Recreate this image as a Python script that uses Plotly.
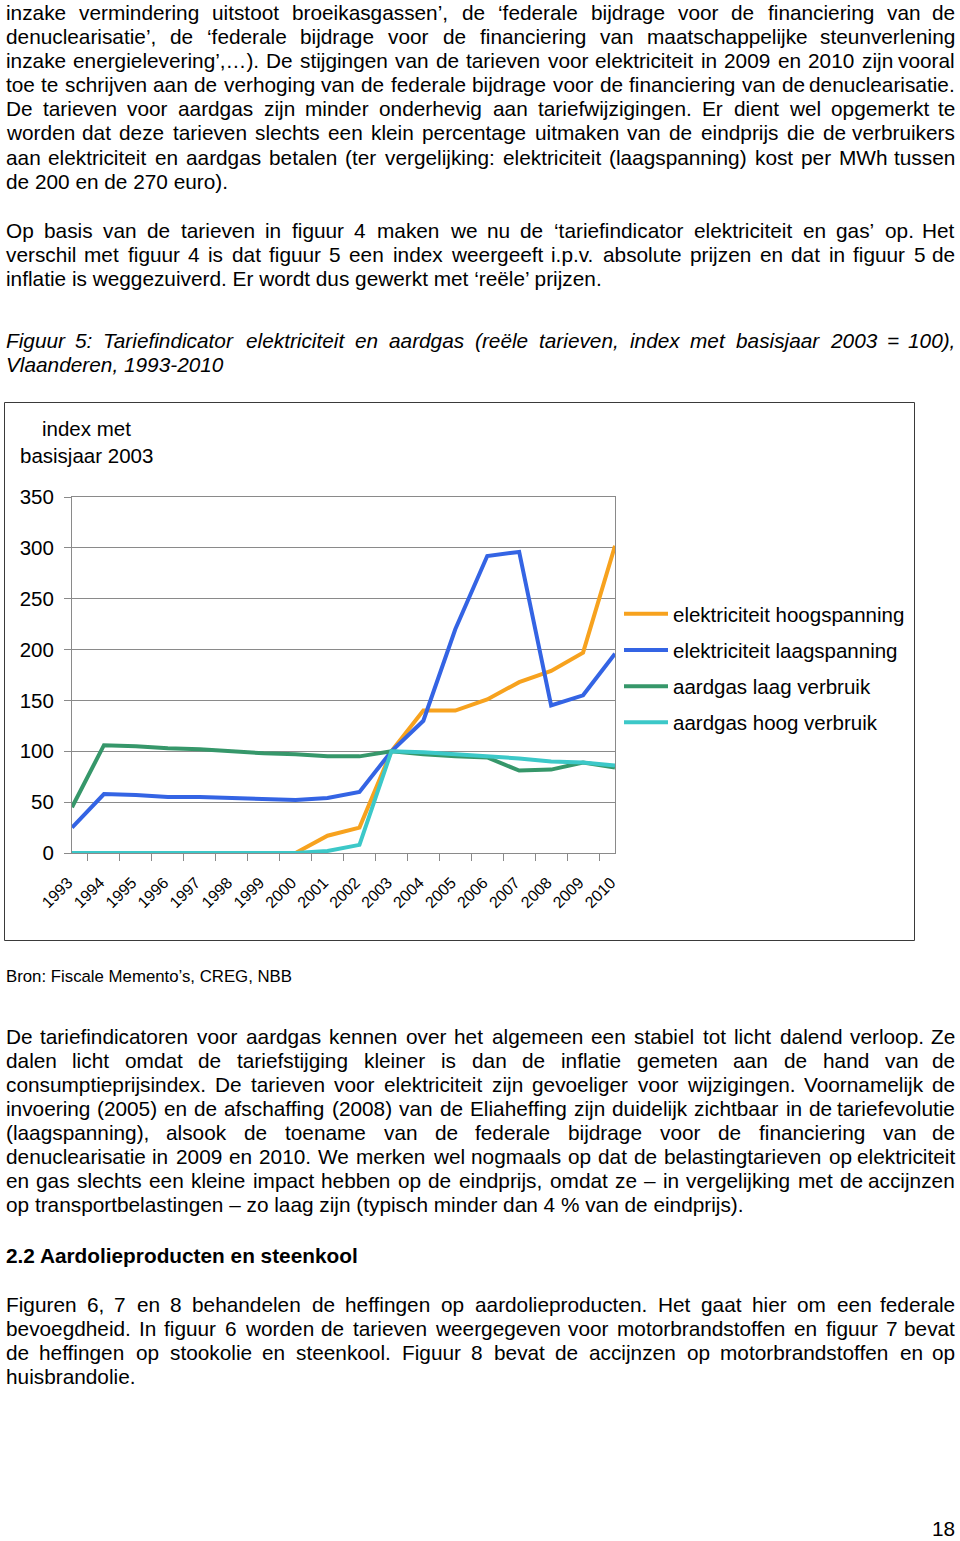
import os
import glob
import plotly.graph_objects as go

W, H = 960, 1541

# ---------------- chart data ----------------
years = [str(y) for y in range(1993, 2011)]
series_names = ["elektriciteit hoogspanning", "elektriciteit laagspanning",
                "aardgas laag verbruik", "aardgas hoog verbruik"]
elek_hoog = [0, 0, 0, 0, 0, 0, 0, 0, 17, 25, 100, 140, 140, 151, 168, 179, 197, 302]
elek_laag = [25, 58, 57, 55, 55, 54, 53, 52, 54, 60, 100, 130, 220, 292, 296, 145, 155, 196]
gas_laag = [45, 106, 105, 103, 102, 100, 98, 97, 95, 95, 100, 97, 95, 94, 81, 82, 89, 84]
gas_hoog = [0, 0, 0, 0, 0, 0, 0, 0, 2, 8, 100, 99, 97, 95, 93, 90, 89, 86]
series_colors = ["#F7A21E", "#3464E4", "#36976A", "#3CC8C8"]
y_ticks = [0, 50, 100, 150, 200, 250, 300, 350]
y_title_lines = ["index met", "basisjaar 2003"]

# ---------------- page text ----------------
para1 = [
    "inzake vermindering uitstoot broeikasgassen’, de ‘federale bijdrage voor de financiering van de",
    "denuclearisatie’, de ‘federale bijdrage voor de financiering van maatschappelijke steunverlening",
    "inzake energielevering’,…). De stijgingen van de tarieven voor elektriciteit in 2009 en 2010 zijn vooral",
    "toe te schrijven aan de verhoging van de federale bijdrage voor de financiering van de denuclearisatie.",
    "De tarieven voor aardgas zijn minder onderhevig aan tariefwijzigingen. Er dient wel opgemerkt te",
    "worden dat deze tarieven slechts een klein percentage uitmaken van de eindprijs die de verbruikers",
    "aan elektriciteit en aardgas betalen (ter vergelijking: elektriciteit (laagspanning) kost per MWh tussen",
    "de 200 en de 270 euro).",
]
para2 = [
    "Op basis van de tarieven in figuur 4 maken we nu de ‘tariefindicator elektriciteit en gas’ op. Het",
    "verschil met figuur 4 is dat figuur 5 een index weergeeft i.p.v. absolute prijzen en dat in figuur 5 de",
    "inflatie is weggezuiverd. Er wordt dus gewerkt met ‘reële’ prijzen.",
]
caption = [
    "Figuur 5: Tariefindicator elektriciteit en aardgas (reële tarieven, index met basisjaar 2003 = 100),",
    "Vlaanderen, 1993-2010",
]
source = "Bron: Fiscale Memento’s, CREG, NBB"
para3 = [
    "De tariefindicatoren voor aardgas kennen over het algemeen een stabiel tot licht dalend verloop. Ze",
    "dalen licht omdat de tariefstijging kleiner is dan de inflatie gemeten aan de hand van de",
    "consumptieprijsindex. De tarieven voor elektriciteit zijn gevoeliger voor wijzigingen. Voornamelijk de",
    "invoering (2005) en de afschaffing (2008) van de Eliaheffing zijn duidelijk zichtbaar in de tariefevolutie",
    "(laagspanning), alsook de toename van de federale bijdrage voor de financiering van de",
    "denuclearisatie in 2009 en 2010. We merken wel nogmaals op dat de belastingtarieven op elektriciteit",
    "en gas slechts een kleine impact hebben op de eindprijs, omdat ze – in vergelijking met de accijnzen",
    "op transportbelastingen – zo laag zijn (typisch minder dan 4 % van de eindprijs).",
]
heading = "2.2 Aardolieproducten en steenkool"
para4 = [
    "Figuren 6, 7 en 8 behandelen de heffingen op aardolieproducten. Het gaat hier om een federale",
    "bevoegdheid. In figuur 6 worden de tarieven weergegeven voor motorbrandstoffen en figuur 7 bevat",
    "de heffingen op stookolie en steenkool. Figuur 8 bevat de accijnzen op motorbrandstoffen en op",
    "huisbrandolie.",
]
page_number = "18"


# ---------------- fonts ----------------
def has_font(token):
    for d in ["/usr/share/fonts", "/usr/local/share/fonts", os.path.expanduser("~/.fonts")]:
        for f in glob.glob(d + "/**/*", recursive=True):
            if token.lower() in os.path.basename(f).lower():
                return True
    return False


BODY = "Liberation Sans, Arial, sans-serif"
if has_font("LiberationSansNarrow"):
    CHART = "Liberation Sans Narrow, Arial Narrow, sans-serif"
    CS = 24
    XS = 18
else:
    CHART = "Liberation Sans, Arial, sans-serif"
    CS = 20.5
    XS = 16

# Helvetica/Arial advance widths (1/1000 em) for justification
CW = {' ': 278, '!': 278, '(': 333, ')': 333, ',': 278, '-': 333, '.': 278, '/': 278,
      ':': 278, ';': 278, '%': 889, '=': 584, '‘': 222, '’': 222, '…': 1000, '–': 556,
      "'": 191,
      'A': 667, 'B': 667, 'C': 722, 'D': 722, 'E': 667, 'F': 611, 'G': 778, 'H': 722,
      'I': 278, 'J': 500, 'K': 667, 'L': 556, 'M': 833, 'N': 722, 'O': 778, 'P': 667,
      'Q': 778, 'R': 722, 'S': 667, 'T': 611, 'U': 722, 'V': 667, 'W': 944, 'X': 667,
      'Y': 667, 'Z': 611,
      'a': 556, 'b': 556, 'c': 500, 'd': 556, 'e': 556, 'f': 278, 'g': 556, 'h': 556,
      'i': 222, 'j': 222, 'k': 500, 'l': 222, 'm': 833, 'n': 556, 'o': 556, 'p': 556,
      'q': 556, 'r': 333, 's': 500, 't': 278, 'u': 556, 'v': 500, 'w': 722, 'x': 500,
      'y': 500, 'z': 500, 'ë': 556, 'é': 556}

LEFT, RIGHT = 4.5, 956.0
FS = 20.8
LH = 24.1

annotations = []


def X(px):
    return px / W


def Y(py):
    return 1 - py / H


def ann(text, px, py, xanchor, font, yanchor="middle"):
    annotations.append(dict(text=text, x=X(px), y=Y(py), xref="paper", yref="paper",
                            xanchor=xanchor, yanchor=yanchor, showarrow=False,
                            borderpad=0, font=font))


def text_line(s, yc, size=FS, justify=True, style="normal", weight="normal"):
    font = dict(family=BODY, size=size, color="black", style=style, weight=weight)
    if not justify:
        ann(s, LEFT, yc, "left", font)
        return
    words = s.split(" ")
    widths = [sum(CW.get(c, 556) for c in w) * size / 1000 for w in words]
    gap = (RIGHT - LEFT - sum(widths)) / (len(words) - 1)
    x = LEFT
    for i, (w, wd) in enumerate(zip(words, widths)):
        if i == len(words) - 1:
            ann(w, RIGHT, yc, "right", font)
        else:
            ann(w, x, yc, "left", font)
        x += wd + gap


def paragraph(lines, y0, style="normal"):
    for i, s in enumerate(lines):
        text_line(s, y0 + i * LH, justify=(i < len(lines) - 1), style=style)


paragraph(para1, 12.5)
paragraph(para2, 230.5)
paragraph(caption, 340.5, style="italic")
ann(source, LEFT, 976, "left", dict(family=BODY, size=16.8, color="black"))
paragraph(para3, 1036)
ann(heading, LEFT, 1255, "left", dict(family=BODY, size=FS, color="black", weight="bold"))
paragraph(para4, 1304)
ann(page_number, 956, 1540.5, "right", dict(family=BODY, size=FS, color="black"), yanchor="bottom")

# chart title (two separate lines)
for line, yc in zip(y_title_lines, [429, 455]):
    ann(line, 86, yc, "center", dict(family=CHART, size=CS, color="black"))

# ---------------- figure ----------------
fig = go.Figure()
for name, vals, col in zip(series_names, [elek_hoog, elek_laag, gas_laag, gas_hoog], series_colors):
    fig.add_trace(go.Scatter(x=years, y=vals, mode="lines", name=name, legendgroup=name,
                             line=dict(color=col, width=4)))

GRID = "#8A8A8A"
fig.update_layout(
    width=W, height=H,
    margin=dict(l=0, r=0, t=0, b=0, pad=0, autoexpand=False),
    paper_bgcolor="white", plot_bgcolor="white",
    showlegend=True,
    legend=dict(x=X(619), y=Y(594), xanchor="left", yanchor="top",
                font=dict(family=CHART, size=CS, color="black"),
                bgcolor="rgba(0,0,0,0)", borderwidth=0,
                traceorder="grouped", tracegroupgap=6.5, itemwidth=44),
    xaxis=dict(domain=[X(72), X(615)], type="category", categoryorder="array",
               categoryarray=years, tickson="boundaries", ticks="outside", ticklen=7,
               tickcolor=GRID, showline=True, linecolor=GRID, linewidth=1, mirror=True,
               showgrid=False, tickangle=-45, automargin=False,
               ticklabelstandoff=13, ticklabelshift=-4,
               tickfont=dict(family=CHART, size=XS, color="black")),
    yaxis=dict(domain=[Y(853), Y(497)], range=[0, 350], tickvals=y_ticks,
               ticks="outside", ticklen=7, tickcolor=GRID, showline=True, linecolor=GRID,
               mirror=True, showgrid=True, gridcolor=GRID, gridwidth=1, zeroline=False,
               ticklabelstandoff=6, automargin=False,
               tickfont=dict(family=CHART, size=CS, color="black")),
    annotations=annotations,
    shapes=[dict(type="rect", xref="paper", yref="paper", x0=X(4.5), x1=X(914.5),
                 y0=Y(940.5), y1=Y(402.5), line=dict(color="#3A3A3A", width=1))],
)

fig.write_html("out.html", config={"displayModeBar": False},
               post_script="document.body.style.margin='0px';")
